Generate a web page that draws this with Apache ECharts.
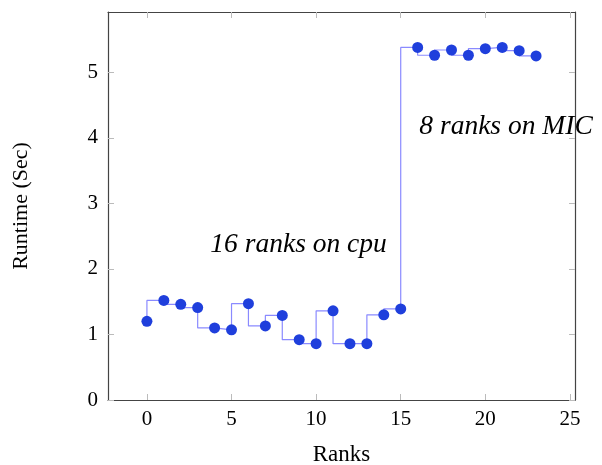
<!DOCTYPE html>
<html><head><meta charset="utf-8">
<script src="https://cdn.jsdelivr.net/npm/echarts@6/dist/echarts.min.js"></script>
<style>html,body{margin:0;padding:0;background:#fff}#c{width:602px;height:465px}</style>
</head><body><div id="c"></div>
<script>
const ranks = [0,1,2,3,4,5,6,7,8,9,10,11,12,13,14,15,16,17,18,19,20,21,22,23];
const runtime = [1.20,1.52,1.46,1.41,1.10,1.07,1.47,1.13,1.29,0.92,0.86,1.36,0.86,0.86,1.30,1.39,5.38,5.26,5.34,5.26,5.36,5.38,5.33,5.25];
const xTicks = [0,5,10,15,20,25];
const yTicks = [0,1,2,3,4,5];
const annotations = [
  {text:'16 ranks on cpu', x:3.75, y:2.37},
  {text:'8 ranks on MIC', x:16.1, y:4.17}
];

const chart = echarts.init(document.getElementById('c'), null, {renderer:'canvas'});
const serif = '"Liberation Serif", "DejaVu Serif", serif';
const tickStyle = {show:true, inside:true, length:6, lineStyle:{color:'#bbbbbb', width:1}};
const lineStyle = {show:true, onZero:false, lineStyle:{color:'#444', width:1.2}};
function xAxis(pos, labels){
  return {type:'value', position:pos, min:-2.3, max:25.3,
    axisLine:lineStyle, splitLine:{show:false},
    axisTick:Object.assign({customValues:xTicks}, tickStyle),
    axisLabel:{show:labels, customValues:xTicks, color:'#000', fontFamily:serif, fontSize:21, margin:9},
    name: labels ? 'Ranks' : '', nameLocation:'middle', nameGap:43,
    nameTextStyle:{color:'#000', fontFamily:serif, fontSize:23}};
}
function yAxis(pos, labels){
  return {type:'value', position:pos, min:0, max:5.92,
    axisLine:lineStyle, splitLine:{show:false},
    axisTick:Object.assign({customValues:yTicks}, tickStyle),
    axisLabel:{show:labels, customValues:yTicks, color:'#000', fontFamily:serif, fontSize:21, margin:10},
    name: labels ? 'Runtime (Sec)' : '', nameLocation:'middle', nameGap:76, nameRotate:90,
    nameTextStyle:{color:'#000', fontFamily:serif, fontSize:22}};
}
chart.setOption({
  animation:false,
  grid:{left:108, top:12, right:27, bottom:65, outerBoundsMode:'none', containLabel:false},
  xAxis:[xAxis('bottom', true), xAxis('top', false)],
  yAxis:[yAxis('left', true), yAxis('right', false)],
  series:[{
    type:'line', step:'start', xAxisIndex:0, yAxisIndex:0,
    data: ranks.map((r,i)=>[r, runtime[i]]),
    symbol:'circle', symbolSize:11,
    itemStyle:{color:'#1f3fdc'},
    lineStyle:{color:'#8a8aff', width:1.2}
  }]
});
const graphics = annotations.map(a=>{
  const p = chart.convertToPixel({xAxisIndex:0, yAxisIndex:0}, [a.x, a.y]);
  return {type:'text', x:p[0], y:p[1], z:100,
    style:{text:a.text, font:'italic 27.5px ' + serif, fill:'#000', textAlign:'left', textVerticalAlign:'middle'}};
});
chart.setOption({graphic:graphics});
</script></body></html>
